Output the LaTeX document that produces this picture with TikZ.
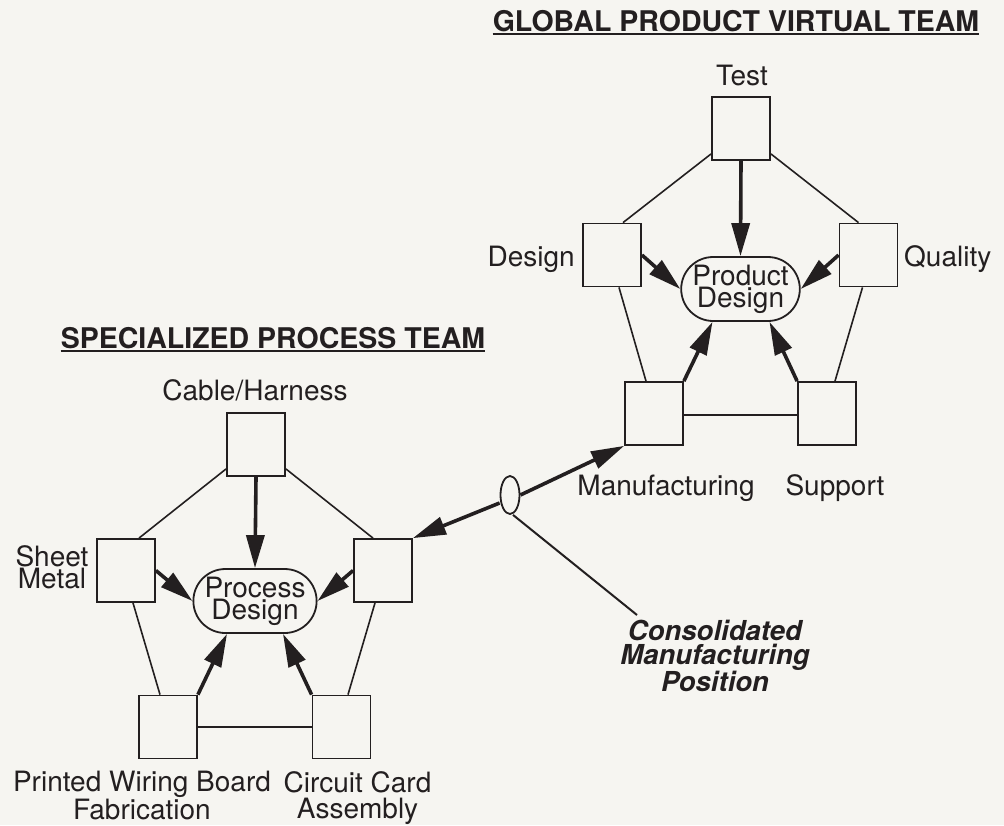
\documentclass[tikz,border=0pt]{standalone}
\usepackage{fontspec}
\setmainfont{TeX Gyre Heros}
\usetikzlibrary{positioning, calc, shapes.geometric, shapes.misc, arrows.meta}
\definecolor{ink}{RGB}{35,31,32}
\definecolor{paper}{RGB}{246,245,241}

\begin{document}
\begin{tikzpicture}[x=1pt, y=-1pt,
    team/.style={draw=ink, line width=1.8pt, minimum width=58pt, minimum height=63pt, inner sep=0pt},
    hub/.style={draw=ink, line width=1.8pt, rounded rectangle, minimum width=115pt, minimum height=64pt, inner sep=0pt, align=center, text=ink, font=\fontsize{28}{22}\selectfont},
    lbl/.style={text=ink, inner sep=0pt, align=center, font=\fontsize{28}{26}\selectfont},
    ttl/.style={text=ink, inner sep=0pt, font=\fontsize{28.5}{30}\selectfont\bfseries},
    tie/.style={draw=ink, line width=1.6pt},
    feed/.style={draw=ink, line width=3.6pt, -{Triangle[length=33pt, width=18pt]}}]
  \fill[paper] (0,0) rectangle (1004,825);
  \useasboundingbox (0,0) rectangle (1004,825);

  % global product virtual team
  \node (gpvt) [ttl, anchor=base] at (736,31) {GLOBAL PRODUCT VIRTUAL TEAM};
  \draw[ink, line width=2pt] ([yshift=-3pt]gpvt.base west) -- ([yshift=-3pt]gpvt.base east);
  \node (test) [team] at (741,128.5) {};
  \node (design) [team] at (612,255) {};
  \node (quality) [team] at (868.5,255) {};
  \node (mfg) [team] at (654,413.5) {};
  \node (support) [team] at (827,413.5) {};
  \node (proddes) [hub] at (740.5,289) {Product\\Design};
  \node (testlbl) [lbl, anchor=base] at (742,85) {Test};
  \node (designlbl) [lbl, anchor=base east] at (575,266) {Design};
  \node (qualitylbl) [lbl, anchor=base west] at (904,266) {Quality};
  \node (mfglbl) [lbl, anchor=base] at (666,495) {Manufacturing};
  \node (supportlbl) [lbl, anchor=base] at (835,495) {Support};
  \draw [tie] ([yshift=7pt]test.south west) -- ([xshift=11pt]design.north);
  \draw [tie] ([yshift=7pt]test.south east) -- ([xshift=-10pt]quality.north);
  \draw [tie] ([xshift=7pt]design.south) -- ([xshift=-8pt]mfg.north);
  \draw [tie] ([xshift=-6pt]quality.south) -- ([xshift=8pt]support.north);
  \draw [tie] ([yshift=-1.5pt]mfg.east) -- ([yshift=-1.5pt]support.west);
  \draw [feed] (test.south) -- (proddes.north);
  \draw [feed] (design.east) -- (proddes.west);
  \draw [feed] (quality.west) -- (proddes.east);
  \draw [feed] (mfg.north east) -- ([xshift=-28pt]proddes.south);
  \draw [feed] (support.north west) -- ([xshift=29pt]proddes.south);

  % specialized process team
  \node (spt) [ttl, anchor=base] at (273,348) {SPECIALIZED PROCESS TEAM};
  \draw[ink, line width=2pt] ([yshift=-3pt]spt.base west) -- ([yshift=-3pt]spt.base east);
  \node (cable) [team] at (256,444.5) {};
  \node (sheet) [team] at (126,570.5) {};
  \node (pmfg) [team] at (383,570.5) {};
  \node (pwb) [team] at (168,727) {};
  \node (cca) [team] at (341.5,727) {};
  \node (procdes) [hub] at (255,601) {Process\\Design};
  \node (cablelbl) [lbl, anchor=base] at (255,400) {Cable/Harness};
  \node (sheetlbl) [lbl, font=\fontsize{28}{19}\selectfont] at (52,567) {Sheet\\Metal};
  \node (pwblbl) [lbl, anchor=north] at (142,771) {Printed Wiring Board\\Fabrication};
  \node (ccalbl) [lbl, anchor=north] at (357.5,771) {Circuit Card\\Assembly};
  \draw [tie] ([yshift=8pt]cable.south west) -- ([xshift=13pt]sheet.north);
  \draw [tie] ([yshift=8pt]cable.south east) -- ([xshift=-10pt]pmfg.north);
  \draw [tie] ([xshift=7pt]sheet.south) -- ([xshift=-8pt]pwb.north);
  \draw [tie] ([xshift=-8pt]pmfg.south) -- ([xshift=6.5pt]cca.north);
  \draw [tie] (pwb.east) -- (cca.west);
  \draw [feed] (cable.south) -- (procdes.north);
  \draw [feed] (sheet.east) -- (procdes.west);
  \draw [feed] (pmfg.west) -- (procdes.east);
  \draw [feed] (pwb.north east) -- ([xshift=-28pt]procdes.south);
  \draw [feed] (cca.north west) -- ([xshift=28pt]procdes.south);

  % consolidated manufacturing position
  \node (cmp) [draw=ink, line width=1.8pt, ellipse, minimum width=19pt, minimum height=38pt, inner sep=0pt] at (510,495) {};
  \node (cmplbl) [lbl, font=\fontsize{27.5}{24}\selectfont\bfseries\itshape] at (715,656) {Consolidated\\Manufacturing\\Position};
  \coordinate (cmptip) at (637,615);
  \draw [feed] (cmp.east) -- (mfg.south west);
  \draw [feed] ([yshift=-8pt]cmp.west) -- (pmfg.north east);
  \draw [ink, line width=2pt] ([xshift=3pt]cmp.south) -- (cmptip);
\end{tikzpicture}
\end{document}
